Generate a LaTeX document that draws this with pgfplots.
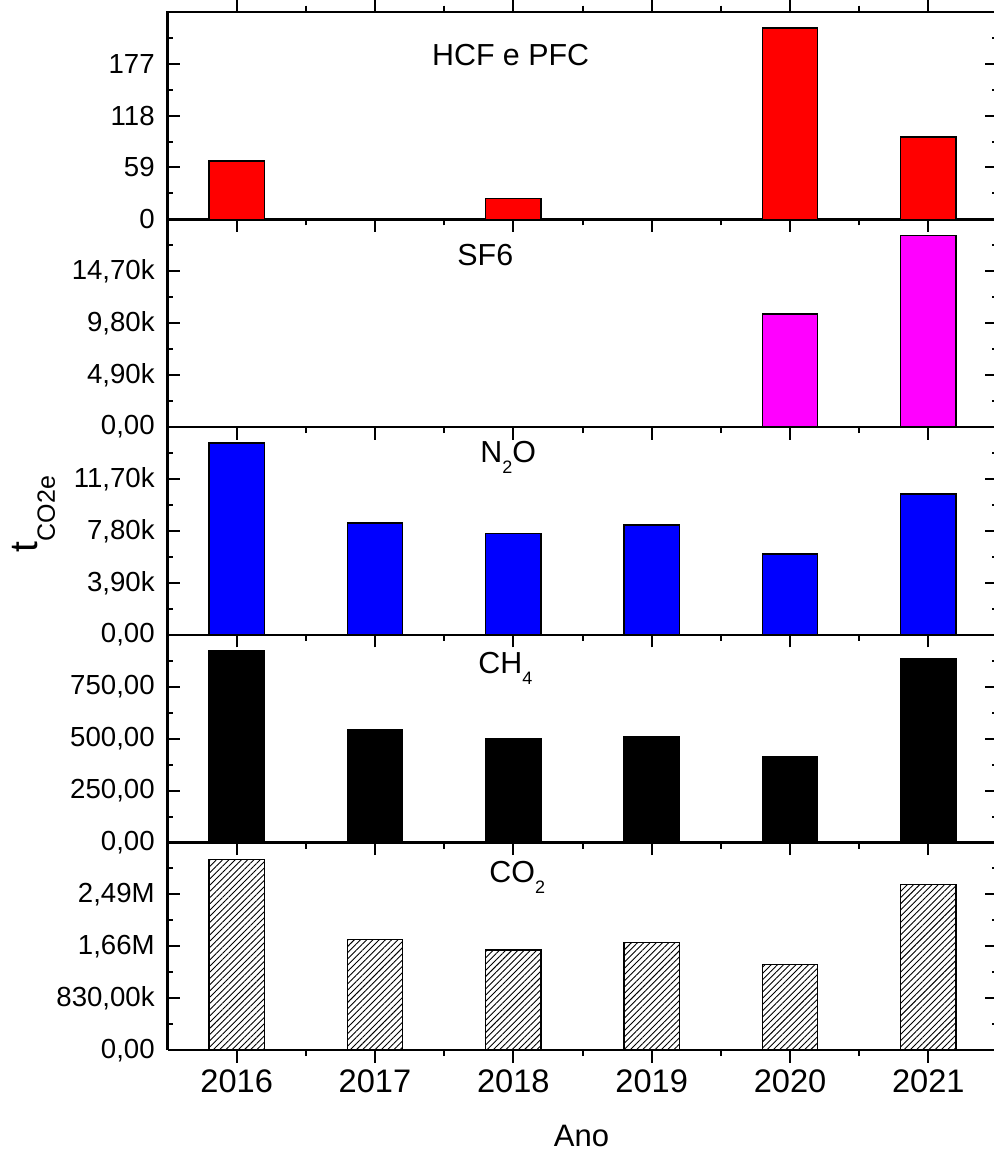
\documentclass[border=0pt]{standalone}
\usepackage{pgfplots}
\pgfplotsset{compat=1.18}
\usepackage{fontspec}
\setmainfont{Liberation Sans}
\usetikzlibrary{patterns.meta}
\definecolor{mag}{RGB}{255,0,255}

\pgfplotsset{
 panel/.style={
  scale only axis, width=415pt, height=103.85pt,
  anchor=north west,
  xmin=2015.5, xmax=2021.5, ymin=0,
  xtick={2016,2017,2018,2019,2020,2021},
  minor xtick={2016.5,2017.5,2018.5,2019.5,2020.5},
  xticklabels={},
  axis line style={line width=1.2pt},
  tick style={line width=1pt,black},
  major tick length=6.25pt, minor tick length=3pt,
  tick align=inside,
  scaled y ticks=false,
  yticklabel style={font=\fontsize{13.8}{13.8}\selectfont, xshift=-2.9pt},
  ybar, bar width=0.4,
 },
 lower/.style={axis x line*=bottom, axis y line*=box, xtick pos=bottom},
 bars/.style={draw=black, line width=0.8pt},
}

\newcommand{\lbl}{\fontsize{15.2}{15.2}\selectfont}
\newcommand{\sub}[1]{\raisebox{-5.8pt}{\fontsize{9}{9}\selectfont #1}}

\begin{document}
\begin{tikzpicture}
% HCF e PFC
\begin{axis}[panel, at={(83.75pt,-5.85pt)}, xtick pos=both,
  ymax=236, ytick={0,59,118,177}, yticklabels={0,59,118,177},
  minor ytick={29.5,88.5,147.5,206.5}]
\addplot[bars, fill=red] coordinates {(2016,66.1) (2018,23.7) (2020,217.4) (2021,93.3)};
\end{axis}
% SF6
\begin{axis}[panel, lower, at={(83.75pt,-109.7pt)},
  ymax=19600, ytick={0,4900,9800,14700}, yticklabels={{0,00},{4,90k},{9,80k},{14,70k}},
  minor ytick={2450,7350,12250,17150}]
\addplot[bars, fill=mag] coordinates {(2020,10700) (2021,18080)};
\end{axis}
% N2O
\begin{axis}[panel, lower, at={(83.75pt,-213.55pt)},
  ymax=15600, ytick={0,3900,7800,11700}, yticklabels={{0,00},{3,90k},{7,80k},{11,70k}},
  minor ytick={1950,5850,9750,13650}]
\addplot[bars, fill=blue] coordinates {(2016,14390) (2017,8410) (2018,7620) (2019,8240) (2020,6070) (2021,10580)};
\end{axis}
% CH4
\begin{axis}[panel, lower, at={(83.75pt,-317.4pt)},
  ymax=1000, ytick={0,250,500,750}, yticklabels={{0,00},{250,00},{500,00},{750,00}},
  minor ytick={125,375,625,875}]
\addplot[bars, fill=black] coordinates {(2016,921) (2017,544) (2018,498) (2019,508) (2020,415) (2021,886)};
\end{axis}
% CO2
\begin{axis}[panel, lower, at={(83.75pt,-421.25pt)},
  ymax=3320000, ytick={0,830000,1660000,2490000},
  yticklabels={{0,00},{830,00k},{1,66M},{2,49M}},
  minor ytick={415000,1245000,2075000,2905000},
  xticklabels={2016,2017,2018,2019,2020,2021},
  xticklabel style={font=\fontsize{16.3}{16.3}\selectfont, yshift=0pt}]
\addplot[bars, pattern={Lines[angle=45,distance=2.2pt,line width=0.45pt]}] coordinates {(2016,3050000) (2017,1772000) (2018,1600000) (2019,1720000) (2020,1370000) (2021,2650000)};
\end{axis}

\node[anchor=base west, inner sep=0] at (215.85pt,-32.5pt) {\lbl HCF e PFC};
\node[anchor=base west, inner sep=0] at (228.5pt,-132.5pt) {\lbl SF6};
\node[anchor=base west, inner sep=0] at (240pt,-231pt) {\lbl N\sub{2}O};
\node[anchor=base west, inner sep=0] at (239pt,-336.5pt) {\lbl CH\sub{4}};
\node[anchor=base west, inner sep=0] at (244.5pt,-441pt) {\lbl CO\sub{2}};
\node[anchor=base, inner sep=0] at (290.75pt,-573.35pt) {\fontsize{15.5}{15.5}\selectfont Ano};
\node[rotate=90, anchor=base, inner sep=0] at (18.5pt,-257pt)
  {\fontsize{19.5}{19.5}\selectfont t\raisebox{-9pt}{\fontsize{12.5}{12.5}\selectfont CO2e}};

\pgfresetboundingbox
\path[use as bounding box] (0pt,0pt) rectangle (496.5pt,-575.5pt);
\end{tikzpicture}
\end{document}
